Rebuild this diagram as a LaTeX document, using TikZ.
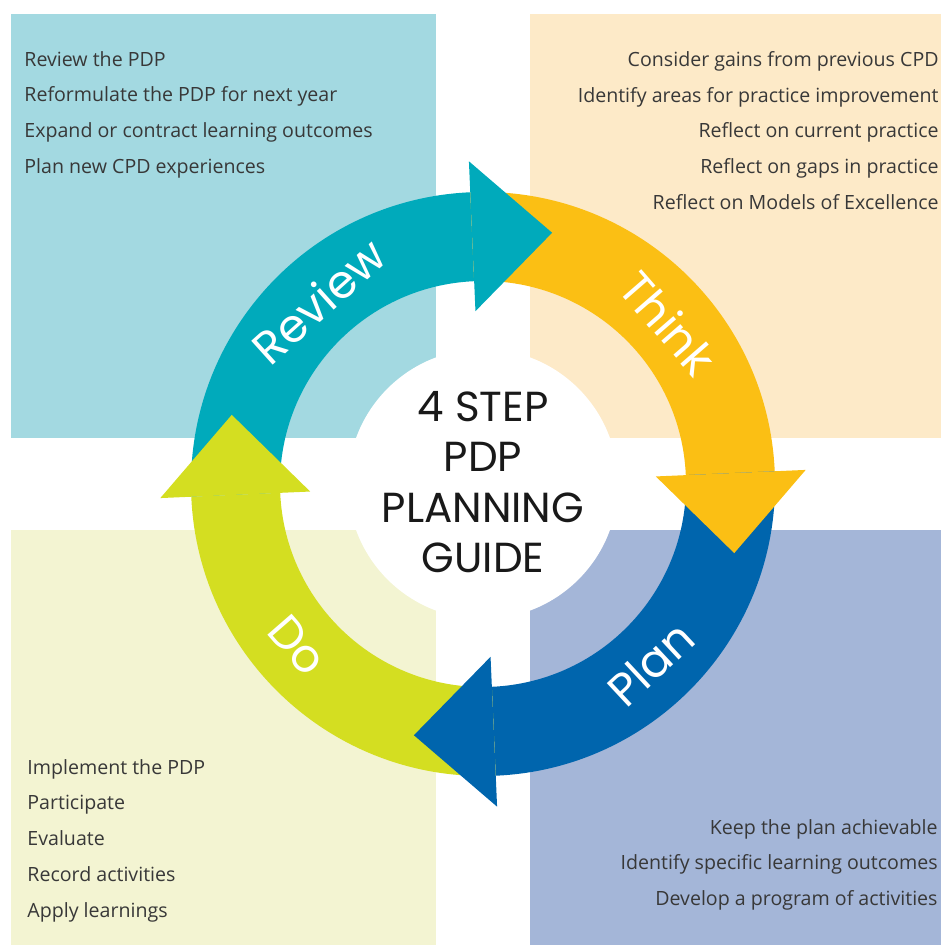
\documentclass[tikz,border=0pt]{standalone}
\usepackage{fontspec}
\setmainfont{Open Sans}
\newfontfamily\geofont{Poppins}
\usetikzlibrary{calc}
\definecolor{reviewbg}{HTML}{A3D9E1}
\definecolor{thinkbg}{HTML}{FDEAC8}
\definecolor{dobg}{HTML}{F3F4D2}
\definecolor{planbg}{HTML}{A4B6D8}
\definecolor{reviewcol}{HTML}{00AABB}
\definecolor{thinkcol}{HTML}{FBBF14}
\definecolor{docol}{HTML}{D4DE21}
\definecolor{plancol}{HTML}{0065AD}
% ring piece from angle #2 to #3, arrow head at angle #2
\def\ringbody[#1](#2:#3){\fill[#1] (#2:292) arc (#2:#3:292) -- (#3:203) arc (#3:#2:203) -- cycle;}
\def\ringhead[#1](#2){\fill[#1] (#2:173) -- (#2:323) -- ($(#2:248)+(#2-90:80)$) -- cycle;}
\tikzset{
  steplist/.style={inner sep=0pt, text=black!78, font=\fontsize{9.8}{17.85}\selectfont},
  steplabel/.style={inner sep=0pt, text=white, font=\geofont\fontsize{23}{23}\selectfont},
}

\begin{document}
\begin{tikzpicture}[x=0.5pt, y=0.5pt]
		%%%%% START %%%%%
		\useasboundingbox (-483, -461) rectangle (458, 484);
		
		\fill[reviewbg] (-472, 46) rectangle (-47, 470);
		\fill[thinkbg] (47, 46) rectangle (458, 470);
		\fill[dobg] (-472, -461) rectangle (-47, -46);
		\fill[planbg] (47, -461) rectangle (458, -46);
		\fill[white] (0, 0) circle (135);
		
		\ringbody[reviewcol](182.5:92.5)
		\ringbody[thinkcol](92.5:2.5)
		\ringbody[plancol](2.5:-87.5)
		\ringbody[docol](-87.5:-177.5)
		
		\ringhead[reviewcol](92.5)
		\ringhead[thinkcol](2.5)
		\ringhead[plancol](-87.5)
		\ringhead[docol](-177.5)
		
		\node[steplabel, rotate=42] (review) at (132:246) {Review};
		\node[steplabel, rotate=-49] (think) at (41:246) {Think};
		\node[steplabel, rotate=43] (plan) at (-47:246) {Plan};
		\node[steplabel, rotate=-49] (do) at (221:246) {Do};
		
		\node[align=center, text=black!90, font=\geofont\fontsize{21}{25.2}\selectfont] (title) at (0, 2) {4 STEP\\PDP\\PLANNING\\GUIDE};
		
		\node[steplist, align=left, anchor=north west] (reviewlist) at (-459, 433) {Review the PDP\\Reformulate the PDP for next year\\Expand or contract learning outcomes\\Plan new CPD experiences};
		\node[steplist, align=right, anchor=north east] (thinklist) at (456, 433) {Consider gains from previous CPD\\Identify areas for practice improvement\\Reflect on current practice\\Reflect on gaps in practice\\Reflect on Models of Excellence};
		\node[steplist, align=left, anchor=north west] (dolist) at (-456, -275) {Implement the PDP\\Participate\\Evaluate\\Record activities\\Apply learnings};
		\node[steplist, align=right, anchor=north east] (planlist) at (455, -335) {Keep the plan achievable\\Identify specific learning outcomes\\Develop a program of activities};
		
		%%%%% END %%%%%
	\end{tikzpicture}
\end{document}
